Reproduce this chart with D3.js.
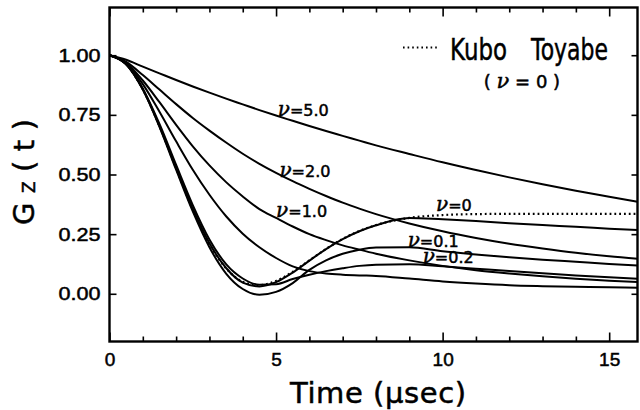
<!DOCTYPE html>
<html>
<head>
<meta charset="utf-8">
<script src="https://cdn.jsdelivr.net/npm/d3@7/dist/d3.min.js"></script>
<style>
  body { margin: 0; background: #fff; }
  svg { display: block; font-family: "DejaVu Sans", "Liberation Sans", sans-serif; }
  text { fill: #000; stroke: #000; stroke-width: 0.5px; }
</style>
</head>
<body>
<svg width="640" height="410"></svg>
<script>
// time axis (usec) shared by every curve
var times = [0, 0.5, 1, 1.5, 2, 2.5, 3, 3.5, 4, 4.5, 5, 5.5, 6, 6.5, 7, 7.5, 8, 9, 10, 11, 12, 13, 14, 15, 15.85];

// static Kubo Toyabe (dotted)
var kuboToyabe = [1, 0.962, 0.857, 0.703, 0.526, 0.354, 0.209, 0.107, 0.050, 0.036, 0.054, 0.092, 0.140, 0.188, 0.230, 0.263, 0.288, 0.318, 0.330, 0.334, 0.335, 0.335, 0.335, 0.335, 0.335];

// dynamic curves
var nu0  = [1, 0.962, 0.857, 0.703, 0.527, 0.357, 0.212, 0.108, 0.047, 0.031, 0.049, 0.089, 0.139, 0.187, 0.229, 0.262, 0.287, 0.318, 0.312, 0.305, 0.296, 0.288, 0.281, 0.273, 0.267];
var nu01 = [1, 0.962, 0.856, 0.700, 0.520, 0.345, 0.195, 0.085, 0.020, -0.004, 0.008, 0.045, 0.100, 0.140, 0.168, 0.185, 0.194, 0.195, 0.178, 0.165, 0.153, 0.143, 0.134, 0.125, 0.119];
var nu02 = [1, 0.963, 0.860, 0.712, 0.540, 0.372, 0.228, 0.124, 0.064, 0.038, 0.040, 0.062, 0.080, 0.095, 0.107, 0.117, 0.122, 0.124, 0.115, 0.105, 0.095, 0.086, 0.077, 0.069, 0.063];
var nu05 = [1, 0.966, 0.879, 0.763, 0.639, 0.520, 0.415, 0.325, 0.252, 0.195, 0.150, 0.115, 0.095, 0.085, 0.080, 0.077, 0.075, 0.064, 0.052, 0.043, 0.036, 0.032, 0.029, 0.027, 0.025];
var nu1  = [1, 0.968, 0.894, 0.803, 0.708, 0.618, 0.538, 0.468, 0.408, 0.355, 0.318, 0.282, 0.250, 0.225, 0.203, 0.185, 0.168, 0.140, 0.117, 0.099, 0.085, 0.073, 0.063, 0.055, 0.049];
var nu2  = [1, 0.972, 0.917, 0.856, 0.795, 0.737, 0.684, 0.634, 0.587, 0.545, 0.507, 0.472, 0.440, 0.410, 0.382, 0.357, 0.334, 0.295, 0.262, 0.234, 0.210, 0.190, 0.172, 0.157, 0.147];
var nu5  = [1, 0.981, 0.952, 0.924, 0.896, 0.869, 0.843, 0.818, 0.794, 0.770, 0.747, 0.725, 0.703, 0.682, 0.662, 0.642, 0.622, 0.586, 0.551, 0.519, 0.488, 0.459, 0.432, 0.407, 0.386];

// curve labels: text and where they sit (t, G)
var labelText = ["5.0", "2.0", "1.0", "0", "0.1", "0.2"];
var labelT    = [5.05, 5.1, 5.0, 9.8, 8.95, 9.4];
var labelG    = [0.745, 0.49, 0.32, 0.345, 0.198, 0.128];

// axis ticks
var xMajor = [0, 5, 10, 15];
var yTicks = [0, 0.25, 0.5, 0.75, 1.0];

var svg = d3.select("svg");
var pLeft = 109.5, pRight = 637.5, pTop = 7.5, pBottom = 341.5;

var x = d3.scaleLinear().domain([0, 15.85]).range([pLeft, pRight]);
var y = d3.scaleLinear().domain([-0.2, 1.2]).range([pBottom, pTop]);

var line = d3.line()
  .x(function(d, i) { return x(times[i]); })
  .y(function(d) { return y(d); })
  .curve(d3.curveMonotoneX);

var g = svg.append("g");

// solid curves
[nu0, nu01, nu02, nu05, nu1, nu2, nu5].forEach(function(s) {
  g.append("path")
    .attr("d", line(s))
    .attr("fill", "none")
    .attr("stroke", "#000")
    .attr("stroke-width", 2);
});

// dotted Kubo Toyabe curve
g.append("path")
  .attr("d", line(kuboToyabe))
  .attr("fill", "none")
  .attr("stroke", "#000")
  .attr("stroke-width", 2.2)
  .attr("stroke-dasharray", "1.8,3");

// axes, ticks pointing inward
var minorX = d3.range(0, 16);
function styleAxis(sel) {
  sel.select(".domain").remove();
  sel.selectAll("line").attr("stroke", "#000").attr("stroke-width", 1.6);
  sel.selectAll("text").style("font-size", "19px");
}

svg.append("g")
  .attr("transform", "translate(0," + pBottom + ")")
  .call(d3.axisBottom(x).tickValues(minorX).tickSize(-5).tickPadding(11)
    .tickFormat(function(d) { return xMajor.indexOf(d) >= 0 ? d : ""; }))
  .call(styleAxis)
  .selectAll(".tick line")
  .attr("y2", function(d) { return xMajor.indexOf(d) >= 0 ? -9 : -5; });

svg.append("g")
  .attr("transform", "translate(0," + pTop + ")")
  .call(d3.axisTop(x).tickValues(minorX).tickSize(-5).tickFormat(""))
  .call(styleAxis)
  .selectAll(".tick line")
  .attr("y2", function(d) { return xMajor.indexOf(d) >= 0 ? 9 : 5; });

svg.append("g")
  .attr("transform", "translate(" + pLeft + ",0)")
  .call(d3.axisLeft(y).tickValues(yTicks).tickSize(-7).tickPadding(9).tickFormat(d3.format(".2f")))
  .call(styleAxis)
  .selectAll("text")
  .attr("textLength", 42).attr("lengthAdjust", "spacingAndGlyphs");

svg.append("g")
  .attr("transform", "translate(" + pRight + ",0)")
  .call(d3.axisRight(y).tickValues(yTicks).tickSize(-6).tickFormat(""))
  .call(styleAxis);

// frame
svg.append("rect")
  .attr("x", pLeft).attr("y", pTop)
  .attr("width", pRight - pLeft).attr("height", pBottom - pTop)
  .attr("fill", "none").attr("stroke", "#000").attr("stroke-width", 2.4);

// axis titles
svg.append("text")
  .attr("x", 290).attr("y", 403)
  .attr("textLength", 176).attr("lengthAdjust", "spacing")
  .style("font-size", "29px")
  .text("Time (\u03bcsec)");

var yt = svg.append("text")
  .attr("transform", "translate(34,225) rotate(-90)")
  .attr("textLength", 106).attr("lengthAdjust", "spacing")
  .style("font-size", "29px");
yt.append("tspan").text("G");
yt.append("tspan").style("font-size", "17px").attr("dy", 1).text("Z");
yt.append("tspan").attr("dy", -1).text("(t)");

// curve labels
labelText.forEach(function(t, i) {
  var lt = svg.append("text")
    .attr("x", x(labelT[i])).attr("y", y(labelG[i]))
    .style("font-size", "16px");
  lt.append("tspan")
    .style("font-family", "'DejaVu Serif', serif")
    .style("font-style", "italic")
    .style("font-size", "20px")
    .text("\u03bd");
  lt.append("tspan").text("=" + t);
});

// legend
svg.append("line")
  .attr("x1", 403).attr("x2", 438).attr("y1", 47.5).attr("y2", 47.5)
  .attr("stroke", "#000").attr("stroke-width", 2)
  .attr("stroke-dasharray", "1.6,3");
svg.append("text")
  .attr("x", 450).attr("y", 60)
  .attr("textLength", 57).attr("lengthAdjust", "spacingAndGlyphs")
  .style("font-size", "30px").text("Kubo");
svg.append("text")
  .attr("x", 531).attr("y", 60)
  .attr("textLength", 77).attr("lengthAdjust", "spacingAndGlyphs")
  .style("font-size", "30px").text("Toyabe");
var leg2 = svg.append("text")
  .attr("x", 522).attr("y", 88)
  .attr("text-anchor", "middle")
  .style("font-size", "18px");
leg2.append("tspan").text("( ");
leg2.append("tspan")
  .style("font-family", "'DejaVu Serif', serif")
  .style("font-style", "italic")
  .style("font-size", "21px")
  .text("\u03bd");
leg2.append("tspan").text(" = 0 )");
</script>
</body>
</html>
